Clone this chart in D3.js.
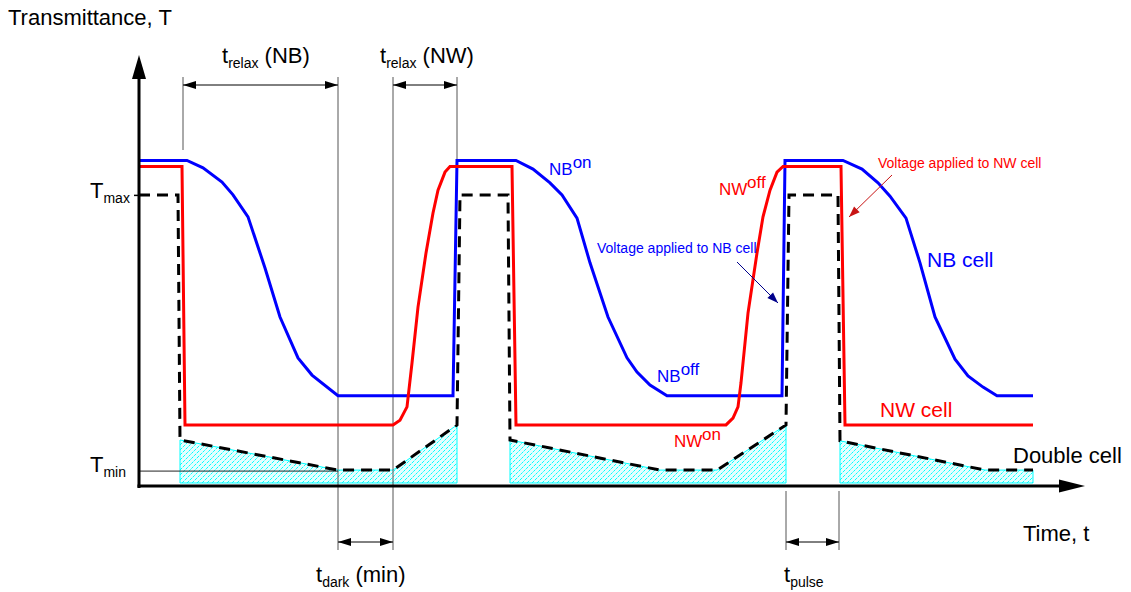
<!DOCTYPE html>
<html><head><meta charset="utf-8">
<script src="https://cdn.jsdelivr.net/npm/d3@7"></script>
<style>
body{margin:0;background:#fff}
svg text{font-family:"Liberation Sans",Arial,Helvetica,sans-serif}
</style></head><body>
<svg id="chart" width="1131" height="592"></svg>
<script>
// ---- data: time (arbitrary units), transmittance (%) ----
const nbCell = [[0,75.7],[48,75.7],[64,74.0],[83,70.7],[94,67.7],[109,62.6],[126,50.7],[141,39.3],[159,29.8],[173,25.8],[199,21.0],[314,21.0],[318,75.7],[377,75.7],[394,73.7],[411,70.5],[423,67.7],[438,62.3],[451,51.9],[469,39.3],[488,29.8],[498,26.5],[511,23.5],[528,21.0],[643,21.0],[646,75.7],[704,75.7],[723,73.7],[739,70.5],[751,67.4],[767,62.3],[781,51.9],[796,39.3],[816,29.5],[829,25.6],[844,23.0],[858,21.0],[894,21.0]];
const nwCell = [[0,74.3],[43,74.3],[46,14.2],[254,14.2],[261,15.3],[268,18.4],[273,28.6],[279,41.6],[287,54.2],[294,63.5],[299,68.8],[306,73.0],[311,74.3],[373,74.3],[377,14.2],[587,14.2],[594,15.8],[599,18.4],[602,24.0],[609,40.2],[618,54.2],[624,62.6],[631,68.8],[638,73.0],[644,74.3],[702,74.3],[706,14.2],[894,14.2]];
const doubleCell = [[0,67.7],[39,67.7],[41,10.7],[199,3.7],[254,3.7],[318,14.2],[321,67.7],[369,67.7],[371,10.7],[521,3.7],[578,3.7],[647,14.2],[650,67.7],[699,67.7],[701,10.5],[846,3.7],[894,3.7]];
const darkRegion1 = [[41,10.7],[199,3.7],[254,3.7],[318,14.2]];
const darkRegion2 = [[371,10.7],[521,3.7],[578,3.7],[647,14.2]];
const darkRegion3 = [[701,10.5],[846,3.7],[894,3.7]];
const hatchBase = 0.7;
const tMax = 67.7, tMin = 3.7;
const relaxNB = [44,199];
const relaxNW = [254,318];
const darkMin = [199,254];
const pulse = [647,700];

// ---- scales ----
const x = d3.scaleLinear().domain([0,944]).range([139,1083]);
const y = d3.scaleLinear().domain([0,100]).range([486,56]);
const svg = d3.select("#chart");

// hatched dark regions: light cyan tint + diagonal hatch lines clipped analytically
const area = d3.area().x(d=>x(d[0])).y0(y(hatchBase)).y1(d=>y(d[1]));
function topAt(pts, px){
  for(let i=0;i<pts.length-1;i++){
    const a=pts[i], b=pts[i+1];
    if(px>=a[0]-1e-9 && px<=b[0]+1e-9){ const f=(px-a[0])/(b[0]-a[0]); return a[1]+(b[1]-a[1])*f; }
  }
  return px<pts[0][0]?pts[0][1]:pts[pts.length-1][1];
}
[darkRegion1,darkRegion2,darkRegion3].forEach(r=>{
  const P=r.map(d=>[x(d[0]),y(d[1])]);
  const xa=P[0][0], xb=P[P.length-1][0], yb=y(hatchBase);
  const ymin=d3.min(P,d=>d[1]);
  svg.append("path").attr("d",area(r)).attr("fill","#e6ffff").attr("stroke","none");
  let dstr="";
  const step=5;
  for(let c=Math.floor((xa+ymin)/step)*step; c<=xb+yb; c+=step){
    let lo=Math.max(xa,c-yb), hi=xb;
    const f=px=>(c-px)-topAt(P,px);
    if(lo>hi) continue;
    if(f(lo)<0) continue;
    let end;
    if(f(hi)>=0) end=hi; else { let a=lo,b=hi; for(let k=0;k<40;k++){const m=(a+b)/2; if(f(m)>=0)a=m; else b=m;} end=a; }
    if(end-lo<0.3) continue;
    dstr+=`M${lo},${c-lo}L${end},${c-end}`;
  }
  svg.append("path").attr("d",dstr).attr("fill","none").attr("stroke","#00ffff").attr("stroke-width",1)
    .attr("stroke-dasharray","3,1");
  svg.append("path").attr("d",area(r)).attr("fill","none").attr("stroke","#00ffff").attr("stroke-width",1);
});

// thin guide lines
const guide = (t,y1,y2)=>svg.append("line").attr("x1",x(t)).attr("x2",x(t)).attr("y1",y1).attr("y2",y2)
  .attr("stroke","#555").attr("stroke-width",1);
guide(relaxNB[0],77,150);
guide(relaxNB[1],77,550);
guide(relaxNW[0],77,550);
guide(relaxNW[1],77,159);
guide(pulse[0],491,550);
guide(pulse[1],491,550);

// Tmin line
svg.append("line").attr("x1",x(0)).attr("x2",x(relaxNB[1])).attr("y1",y(tMin)+1).attr("y2",y(tMin)+1)
  .attr("stroke","#222").attr("stroke-width",1);

// curves
const line = d3.line().x(d=>x(d[0])).y(d=>y(d[1]));
svg.append("path").attr("d",line(nbCell)).attr("fill","none").attr("stroke","#0000ff").attr("stroke-width",3);
svg.append("path").attr("d",line(nwCell)).attr("fill","none").attr("stroke","#ff0000").attr("stroke-width",3);
svg.append("path").attr("d",line(doubleCell)).attr("fill","none").attr("stroke","#000").attr("stroke-width",3)
  .attr("stroke-dasharray","11,7");

// axes
const yAx = svg.append("g").attr("transform",`translate(${x(0)},0)`)
  .call(d3.axisLeft(y).tickValues([tMax]).tickSize(5).tickFormat(""));
yAx.select(".domain").remove();
yAx.selectAll("line").attr("stroke","#000").attr("stroke-width",1.5);
svg.append("line").attr("x1",x(0)).attr("x2",x(0)).attr("y1",488).attr("y2",76).attr("stroke","#000").attr("stroke-width",3);
svg.append("path").attr("d",`M${x(0)},55 L${x(0)-7},79 L${x(0)+7},79 Z`).attr("fill","#000");
svg.append("line").attr("x1",x(0)-1.5).attr("x2",1062).attr("y1",y(0)).attr("y2",y(0)).attr("stroke","#000").attr("stroke-width",3);
svg.append("path").attr("d",`M1085,${y(0)} L1059,${y(0)-6.5} L1059,${y(0)+6.5} Z`).attr("fill","#000");

// dimension arrows
function dim(t1,t2,yy){
  const a=x(t1), b=x(t2);
  svg.append("line").attr("x1",a).attr("x2",b).attr("y1",yy).attr("y2",yy).attr("stroke","#000").attr("stroke-width",1);
  svg.append("path").attr("d",`M${a},${yy} L${a+13},${yy-4} L${a+13},${yy+4} Z`).attr("fill","#000");
  svg.append("path").attr("d",`M${b},${yy} L${b-13},${yy-4} L${b-13},${yy+4} Z`).attr("fill","#000");
}
dim(relaxNB[0],relaxNB[1],85);
dim(relaxNW[0],relaxNW[1],85);
dim(darkMin[0],darkMin[1],542);
dim(pulse[0],pulse[1],542);

// pointer arrows
function pointer(x1,y1,x2,y2,col){
  svg.append("line").attr("x1",x1).attr("y1",y1).attr("x2",x2).attr("y2",y2).attr("stroke",col).attr("stroke-width",1);
  const ang=Math.atan2(y2-y1,x2-x1), L=11, W=4;
  const bx=x2-L*Math.cos(ang), by=y2-L*Math.sin(ang);
  const px=-Math.sin(ang)*W, py=Math.cos(ang)*W;
  svg.append("path").attr("d",`M${x2},${y2} L${bx+px},${by+py} L${bx-px},${by-py} Z`).attr("fill",col);
}
pointer(892,175,849,217,"#c81414");
pointer(737,262,778,303,"#00008b");

// text helpers
function txt(xx,yy,parts,size,col){
  const t=svg.append("text").attr("x",xx).attr("y",yy).attr("font-size",size).attr("fill",col||"#000");
  let cur=0;
  parts.forEach(p=>{
    const s=t.append("tspan").text(p.s);
    const off=p.dy||0;
    s.attr("dy",off-cur); cur=off;
    if(p.size) s.attr("font-size",p.size);
  });
  return t;
}
txt(8,25,[{s:"Transmittance, T"}],22);
txt(1023,541,[{s:"Time, t"}],22);
txt(222,63,[{s:"t"},{s:"relax",size:14,dy:5},{s:" (NB)",dy:0}],22);
txt(380,63,[{s:"t"},{s:"relax",size:14,dy:5},{s:" (NW)",dy:0}],22);
txt(316,582,[{s:"t"},{s:"dark",size:14,dy:5},{s:" (min)",dy:0}],22);
txt(784,582,[{s:"t"},{s:"pulse",size:14,dy:5}],22);
txt(90,198,[{s:"T"},{s:"max",size:14,dy:5}],22);
txt(90,472,[{s:"T"},{s:"min",size:14,dy:5}],22);
txt(1013,463,[{s:"Double cell"}],22);
txt(927,267,[{s:"NB cell"}],21,"#0000ff");
txt(880,417,[{s:"NW cell"}],21,"#ff0000");
txt(549,175,[{s:"NB"},{s:"on",dy:-7}],17,"#0000ff");
txt(657,382,[{s:"NB"},{s:"off",dy:-7}],17,"#0000ff");
txt(719,195,[{s:"NW"},{s:"off",dy:-7}],17,"#ff0000");
txt(674,447,[{s:"NW"},{s:"on",dy:-7}],17,"#ff0000");
txt(878,168,[{s:"Voltage applied to NW cell"}],14,"#ff0000");
txt(597,253,[{s:"Voltage applied to NB cell"}],14,"#0000ff");
</script>
</body></html>
